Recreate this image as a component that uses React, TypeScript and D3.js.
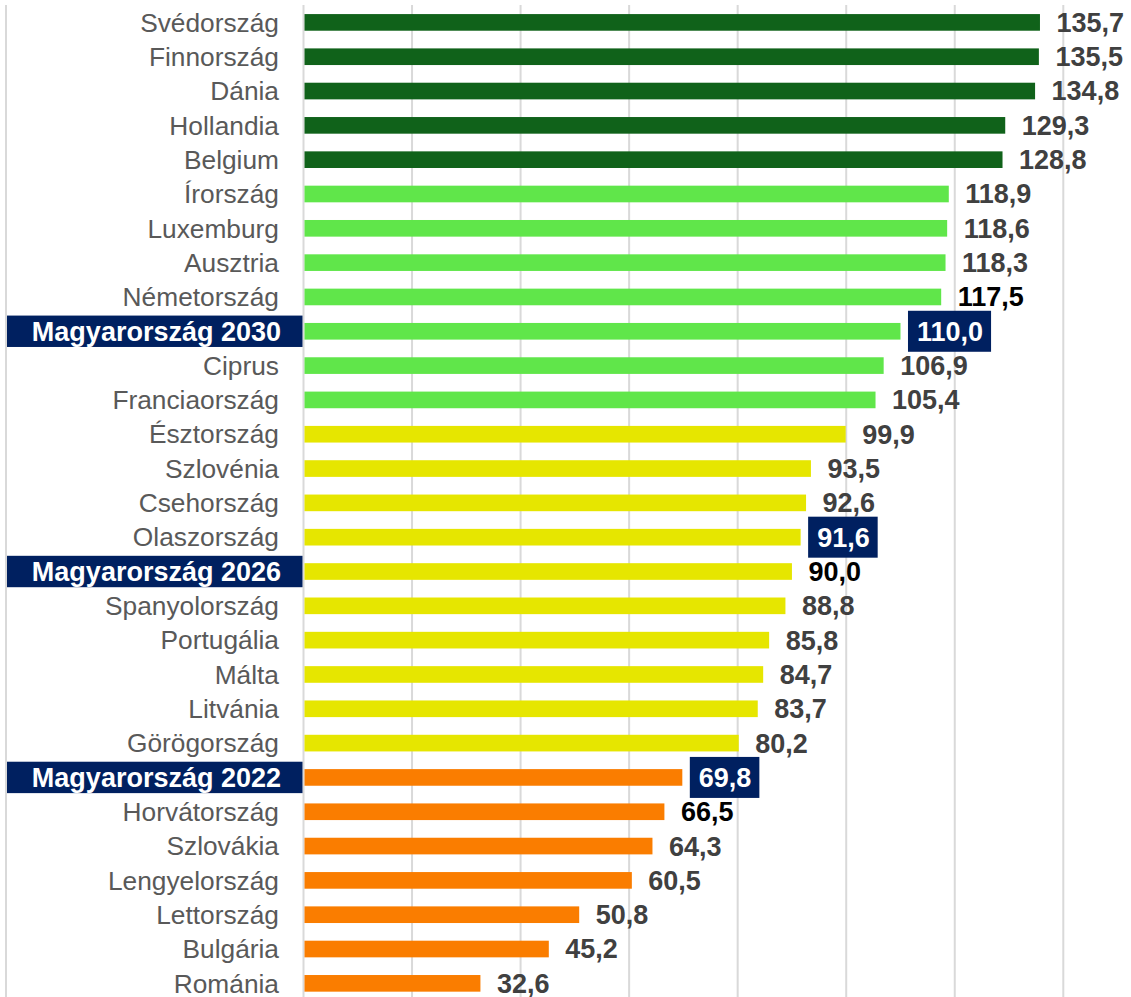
import React, { useMemo } from "react";
import * as d3 from "d3";

const categories = [
  "Svédország", "Finnország", "Dánia", "Hollandia", "Belgium",
  "Írország", "Luxemburg", "Ausztria", "Németország", "Magyarország 2030",
  "Ciprus", "Franciaország", "Észtország", "Szlovénia", "Csehország",
  "Olaszország", "Magyarország 2026", "Spanyolország", "Portugália", "Málta",
  "Litvánia", "Görögország", "Magyarország 2022", "Horvátország", "Szlovákia",
  "Lengyelország", "Lettország", "Bulgária", "Románia",
];
const values = [
  135.7, 135.5, 134.8, 129.3, 128.8,
  118.9, 118.6, 118.3, 117.5, 110.0,
  106.9, 105.4, 99.9, 93.5, 92.6,
  91.6, 90.0, 88.8, 85.8, 84.7,
  83.7, 80.2, 69.8, 66.5, 64.3,
  60.5, 50.8, 45.2, 32.6,
];
const groups = [
  "g1", "g1", "g1", "g1", "g1",
  "g2", "g2", "g2", "g2", "g2",
  "g2", "g2", "g3", "g3", "g3",
  "g3", "g3", "g3", "g3", "g3",
  "g3", "g3", "g4", "g4", "g4",
  "g4", "g4", "g4", "g4",
];
const highlightedCategories = ["Magyarország 2030", "Magyarország 2026", "Magyarország 2022"];
const highlightedValues = ["Magyarország 2030", "Olaszország", "Magyarország 2022"];
const blackValues = ["Németország", "Magyarország 2026", "Horvátország"];
const xTicks = [0, 20, 40, 60, 80, 100, 120, 140];

const W = 1131;
const H = 997;
const NAVY = "#002060";
const groupColor: Record<string, string> = {
  g1: "#10621a",
  g2: "#60e64a",
  g3: "#e6e600",
  g4: "#fa7d00",
};
const FONT = "Arial, 'Liberation Sans', sans-serif";

function measure(text: string, font: string): number {
  const c = document.createElement("canvas");
  const ctx = c.getContext("2d");
  if (!ctx) return text.length * 15;
  ctx.font = font;
  return ctx.measureText(text).width;
}

export default function App() {
  const x = useMemo(() => d3.scaleLinear().domain([0, 140]).range([303.5, 1063.3]), []);
  const y = useMemo(
    () => d3.scaleBand<string>().domain(categories).range([5.24, 1000.5]).paddingInner(0.515).paddingOuter(0.2575),
    []
  );
  const barH = y.bandwidth();
  const fmt = (v: number) => v.toFixed(1).replace(".", ",");
  const valFont = `bold 27px ${FONT}`;

  return (
    <svg
      width={W}
      height={H}
      style={{ position: "absolute", left: 0, top: 0, background: "#fff" }}
      fontFamily={FONT}
    >
      <rect x={0} y={0} width={W} height={H} fill="#fff" />
      {/* left frame line */}
      <line x1={6} x2={6} y1={5} y2={H} stroke="#d9d9d9" strokeWidth={2} />
      {/* gridlines */}
      {xTicks.map((t) => (
        <line key={t} x1={x(t)} x2={x(t)} y1={5} y2={H} stroke="#d9d9d9" strokeWidth={2} />
      ))}
      {categories.map((c, i) => {
        const cy = (y(c) as number) + barH / 2;
        const v = values[i];
        const xEnd = x(v);
        const hiCat = highlightedCategories.includes(c);
        const hiVal = highlightedValues.includes(c);
        const label = fmt(v);
        const tx = xEnd + 16.5;
        const tw = hiVal ? measure(label, valFont) : 0;
        return (
          <g key={c}>
            <rect x={x(0) + 1} y={cy - barH / 2} width={xEnd - x(0) - 1} height={barH} fill={groupColor[groups[i]]} />
            {hiCat && <rect x={7} y={cy - 15.7} width={x(0) - 8} height={31.4} fill={NAVY} />}
            <text
              x={hiCat ? 281 : 279}
              y={cy}
              dy="0.35em"
              textAnchor="end"
              fontSize={hiCat ? 27 : 26.3}
              fontWeight={hiCat ? "bold" : "normal"}
              fill={hiCat ? "#ffffff" : "#595959"}
            >
              {c}
            </text>
            {hiVal && <rect x={tx - 9} y={cy - 20.5} width={tw + 17} height={41} fill={NAVY} />}
            <text
              x={tx}
              y={cy}
              dy="0.35em"
              fontSize={27}
              fontWeight="bold"
              fill={hiVal ? "#ffffff" : blackValues.includes(c) ? "#000000" : "#404040"}
            >
              {label}
            </text>
          </g>
        );
      })}
    </svg>
  );
}
